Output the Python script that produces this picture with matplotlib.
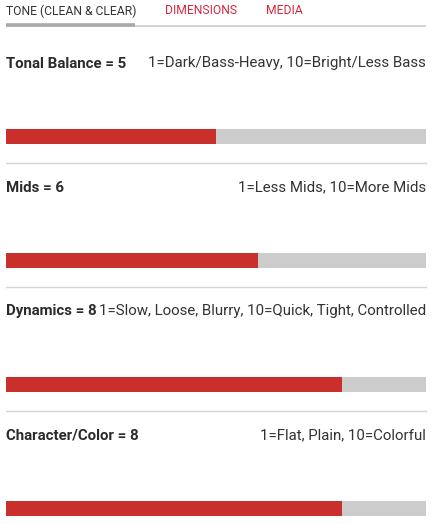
import matplotlib
matplotlib.use("Agg")
import matplotlib.pyplot as plt

# data
tabs = ["TONE (CLEAN & CLEAR)", "DIMENSIONS", "MEDIA"]
names = ["Tonal Balance", "Mids", "Dynamics", "Character/Color"]
scores = [5, 6, 8, 8]
scales = ["1=Dark/Bass-Heavy, 10=Bright/Less Bass",
          "1=Less Mids, 10=More Mids",
          "1=Slow, Loose, Blurry, 10=Quick, Tight, Controlled",
          "1=Flat, Plain, 10=Colorful"]
max_score = 10

RED = "#c9302c"
GREY = "#cccccc"
W, H = 432, 524

plt.rcParams["font.family"] = ["Roboto", "DejaVu Sans"]
fig = plt.figure(figsize=(W / 100, H / 100), dpi=100)
bg = fig.add_axes([0, 0, 1, 1])
bg.set_xlim(0, W)
bg.set_ylim(H, 0)
bg.axis("off")

# tab strip
tab_x = [6, 165, 266]
tab_colors = ["#333333", "#d7263d", "#d7263d"]
for x, t, c in zip(tab_x, tabs, tab_colors):
    bg.text(x, 11, t, color=c, fontsize=8.7, ha="left", va="center")
bg.plot([6, 426], [25.7, 25.7], color="#cccccc", lw=1.2, solid_capstyle="butt")
bg.plot([6, 135], [25, 25], color="#aaaaaa", lw=2.6, solid_capstyle="butt")

step = 124
for i, (n, s, d) in enumerate(zip(names, scores, scales)):
    y0 = 63.5 + i * step
    bg.text(6, y0, f"{n} = {s}", fontsize=10.8, fontweight="bold",
            color="#2b2b2b", ha="left", va="center")
    bg.text(426, y0, d, fontsize=10.8, color="#333333", ha="right", va="center")
    if i > 0:
        bg.plot([6, 426], [y0 - 24.5, y0 - 24.5], color="#d4d4d4", lw=1)
    top = 129 + i * step
    bax = fig.add_axes([6 / W, 1 - (top + 15) / H, 420 / W, 15 / H])
    bax.barh(0, max_score, height=1, color=GREY)
    bax.barh(0, s, height=1, color=RED)
    bax.set_xlim(0, max_score)
    bax.set_ylim(-0.5, 0.5)
    bax.axis("off")

fig.savefig("out.png", dpi=100)
